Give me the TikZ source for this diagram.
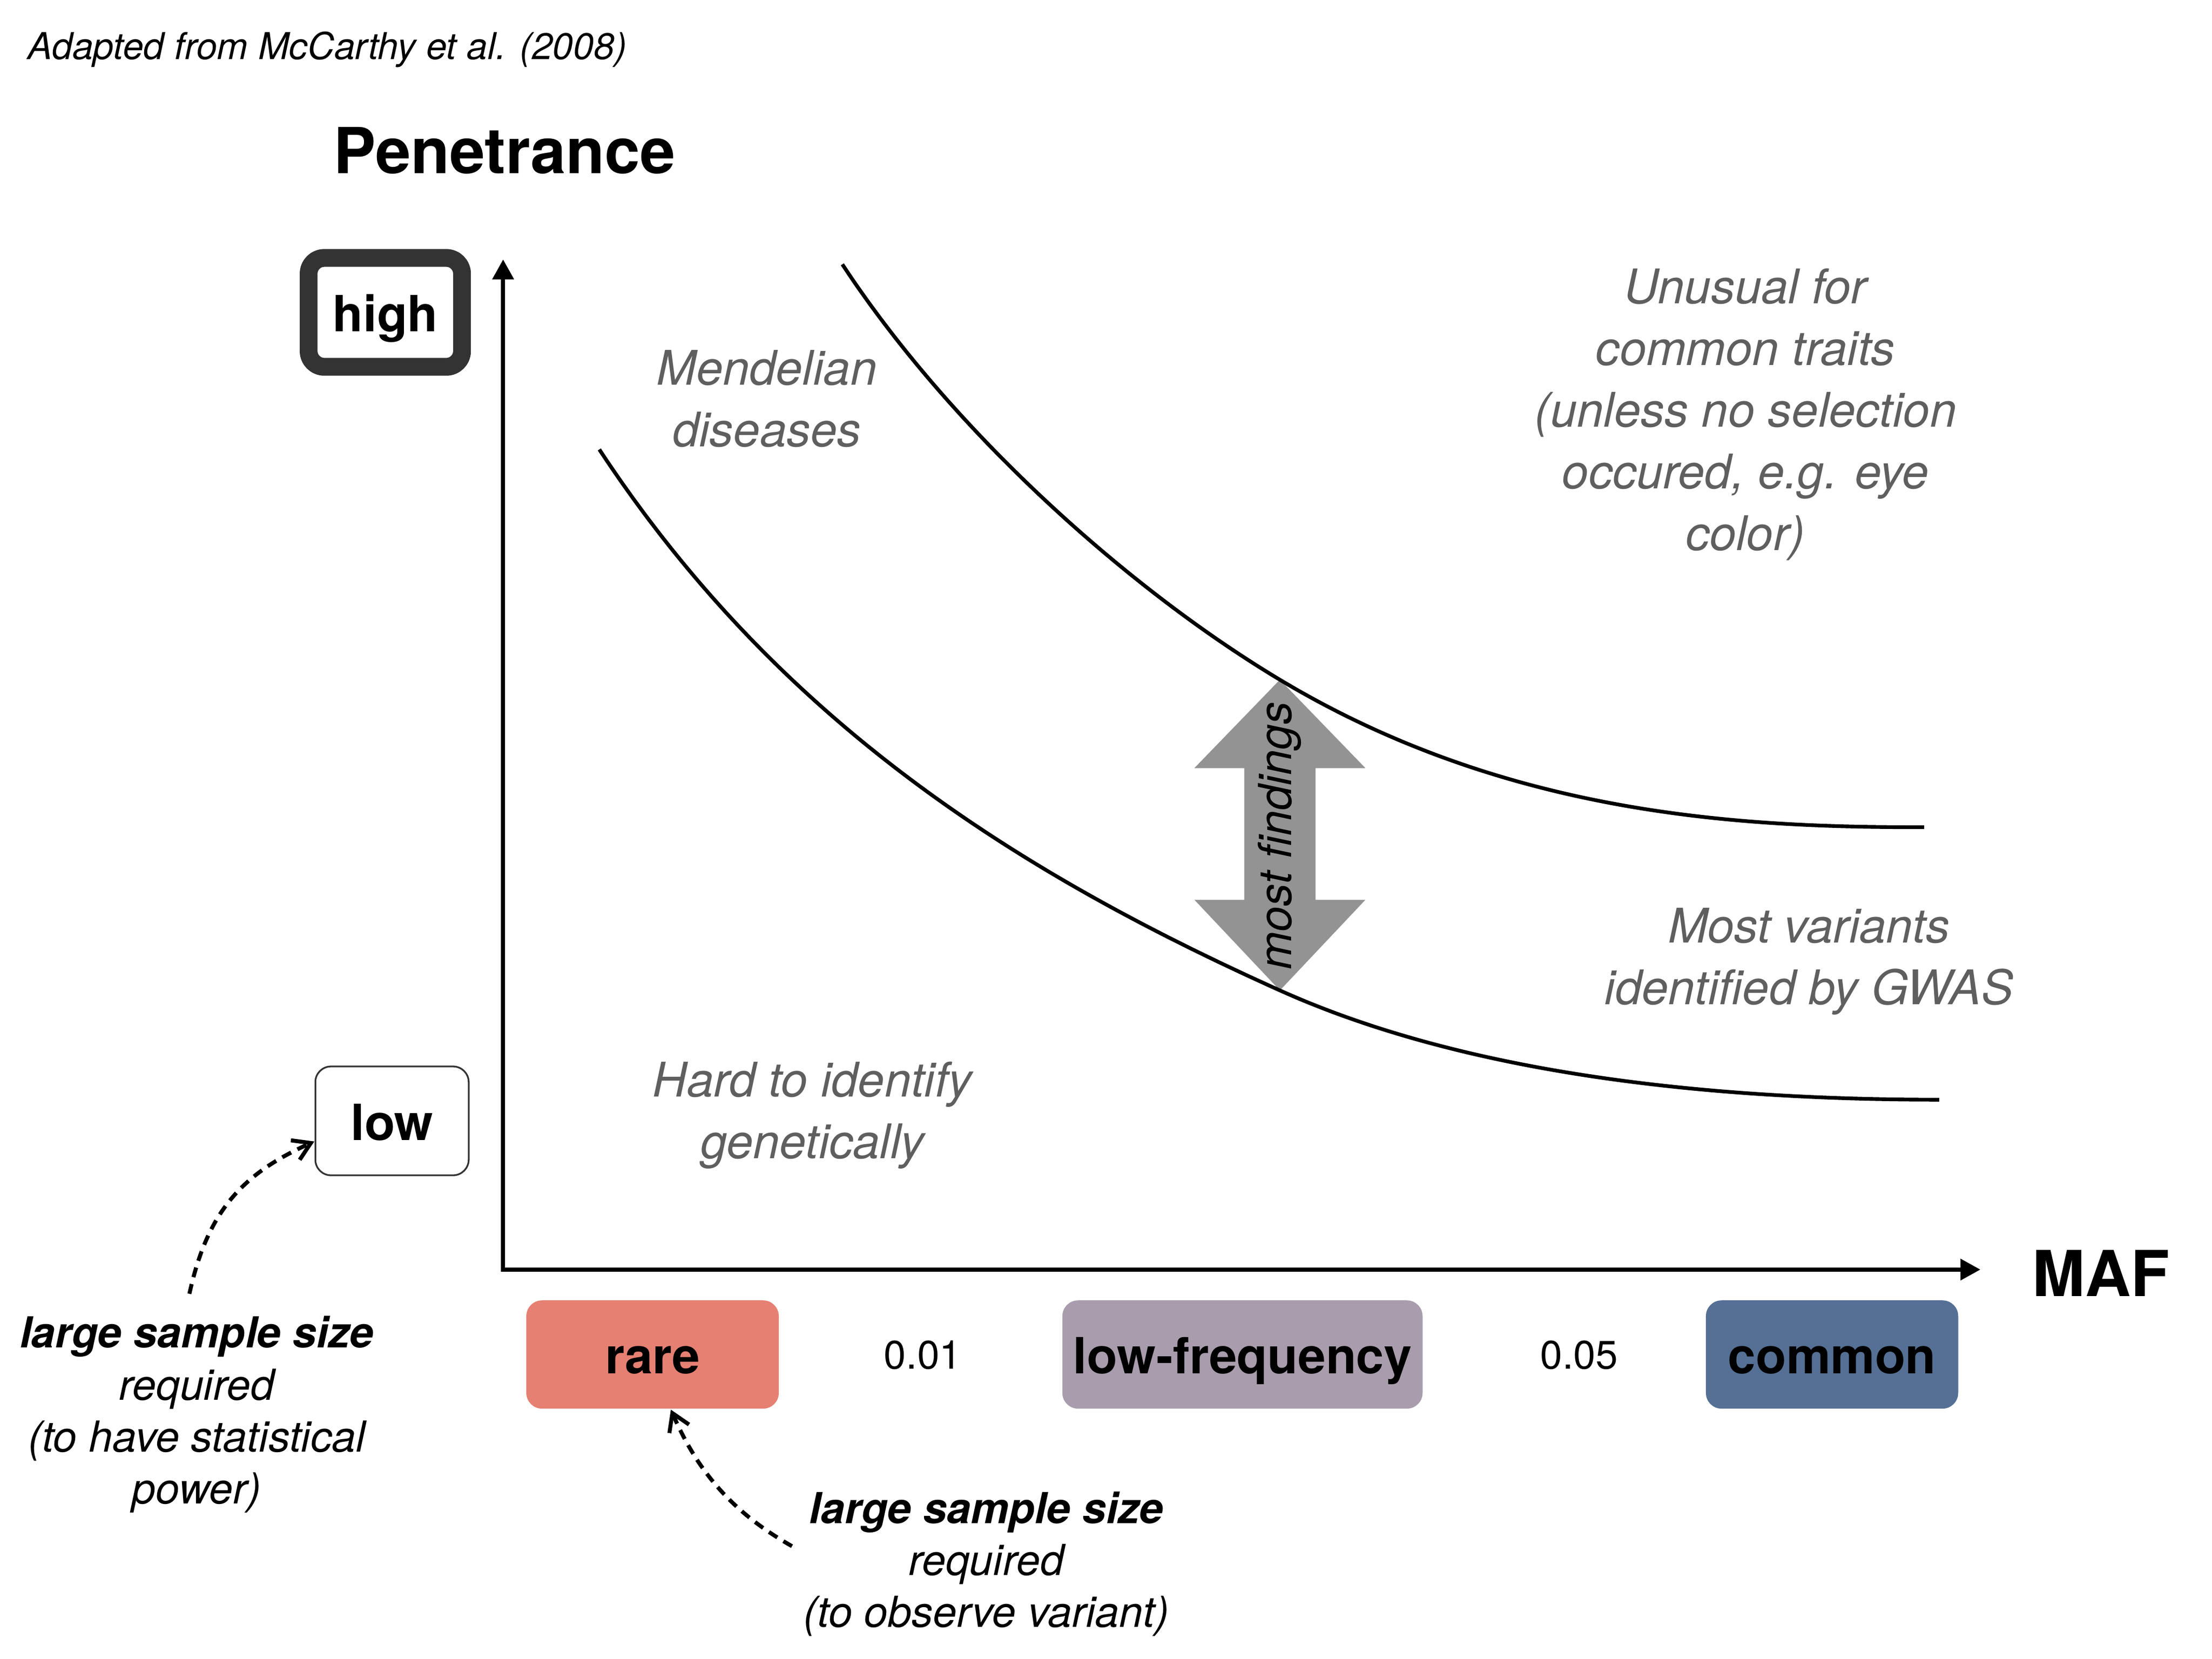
\documentclass[tikz,border=0pt]{standalone}
\usepackage{fontspec}
\setmainfont{TeX Gyre Heros}
\usetikzlibrary{arrows.meta}
\definecolor{rarec}{HTML}{E58072}
\definecolor{lowfc}{HTML}{A99DAD}
\definecolor{commonc}{HTML}{557094}
\definecolor{notegray}{HTML}{5F5F5F}
\definecolor{arrowgray}{HTML}{939393}
\definecolor{boxdark}{HTML}{333333}
\begin{document}
\begin{tikzpicture}[x=1pt,y=-1pt,
  note/.style={text=notegray, font=\fontsize{33.5}{43.3}\selectfont\itshape, align=center, anchor=base, inner sep=0pt},
  ann/.style={text=black, font=\fontsize{30}{36.5}\selectfont\itshape, align=center, anchor=base, inner sep=0pt},
  catbox/.style={rounded corners=11pt, minimum height=76pt, inner sep=0pt, text height=27pt, text depth=0pt, font=\fontsize{35}{42}\selectfont\bfseries},
  levelbox/.style={draw=boxdark, fill=white, minimum width=107.6pt, minimum height=76.4pt, inner sep=0pt, text height=27pt, text depth=0pt, font=\fontsize{35}{42}\selectfont\bfseries},
  axislabel/.style={font=\fontsize{44.5}{50}\selectfont\bfseries, anchor=base, inner sep=0pt},
  ticklabel/.style={font=\fontsize{28}{32}\selectfont, anchor=base, inner sep=0pt},
  curve/.style={line width=2.6pt},
  axisline/.style={line width=3pt, {Triangle[length=14pt,width=14.5pt]}-{Triangle[length=14pt,width=14.5pt]}},
  dasharrow/.style={line width=2.8pt, dash pattern=on 7pt off 5pt, -{Straight Barb[length=12pt,width=15pt]}},
]
\useasboundingbox (0,0) rectangle (1552,1164);

% source and titles
\node[anchor=base west, inner sep=0pt, font=\fontsize{26}{30}\selectfont\itshape] (src) at (19.3,41.6) {Adapted from McCarthy et al. (2008)};
\node[axislabel] (pen) at (354,121.8) {Penetrance};
\node[axislabel] (maf) at (1474.2,909.8) {MAF};

% axes
\coordinate (O) at (353,890.9);
\coordinate (ytop) at (353,182);
\coordinate (xend) at (1389.5,890.9);
\draw[axisline] (ytop) -- (O) -- (xend);

% penetrance levels
\node[levelbox, line width=12.5pt, rounded corners=11pt] (high) at (270.35,219.2) {high};
\node[levelbox, line width=1.2pt, rounded corners=11pt] (low) at (275.05,786.55) {low};

% MAF categories
\node[catbox, fill=rarec, minimum width=177.1pt] (rare) at (457.85,950.5) {rare};
\node[ticklabel] (t1) at (647.5,960.7) {0.01};
\node[catbox, fill=lowfc, minimum width=252.7pt] (lowf) at (871.75,950.5) {low-frequency};
\node[ticklabel] (t5) at (1108,960.7) {0.05};
\node[catbox, fill=commonc, minimum width=177pt] (common) at (1285.4,950.5) {common};

% most findings arrow
\fill[arrowgray] (898,477) -- (958,539) -- (923,539) -- (923,631.4) -- (958,631.4)
  -- (898,695) -- (838,631.4) -- (873,631.4) -- (873,539) -- (838,539) -- cycle;

% curves
\draw[curve] (591,185.5) .. controls (668,302.5) and (791.7,413.3) .. (898,477)
  .. controls (1060.8,574.7) and (1230,580.5) .. (1350,580.5);
\draw[curve] (420.5,315.4) .. controls (547,507.5) and (715.6,613) .. (898,695)
  .. controls (1034.8,756.5) and (1210.6,771.7) .. (1360.6,771.7);

\node[rotate=90, inner sep=0pt, font=\fontsize{32}{36}\selectfont\itshape] (mf) at (898,586.5) {most findings};

% region notes (anchor = baseline of last line)
\node[note] (mend) at (538,313.5) {Mendelian\\diseases};
\node[note] (unus) at (1224.7,386.2) {Unusual for\\common traits\\(unless no selection\\occured, e.g. eye\\color)};
\node[note] (gwas) at (1269.2,704.8) {Most variants\\identified by GWAS};
\node[note] (hard) at (570,812.8) {Hard to identify\\genetically};

% annotations
\node[ann] (ann1) at (138,1055.3) {{\bfseries large sample size}\\required\\(to have statistical\\power)};
\node[ann] (ann2) at (692,1141.9) {{\bfseries large sample size}\\required\\(to observe variant)};

\coordinate (a1s) at (132.9,907.9);
\coordinate (a1e) at (220.5,801);
\draw[dasharrow] (a1s) .. controls (145.7,849.3) and (170.5,823.6) .. (a1e);
\coordinate (a2s) at (555.7,1085);
\coordinate (a2e) at (470.7,989.2);
\draw[dasharrow] (a2s) .. controls (512.2,1060.5) and (488.7,1030.6) .. (a2e);
\end{tikzpicture}
\end{document}
